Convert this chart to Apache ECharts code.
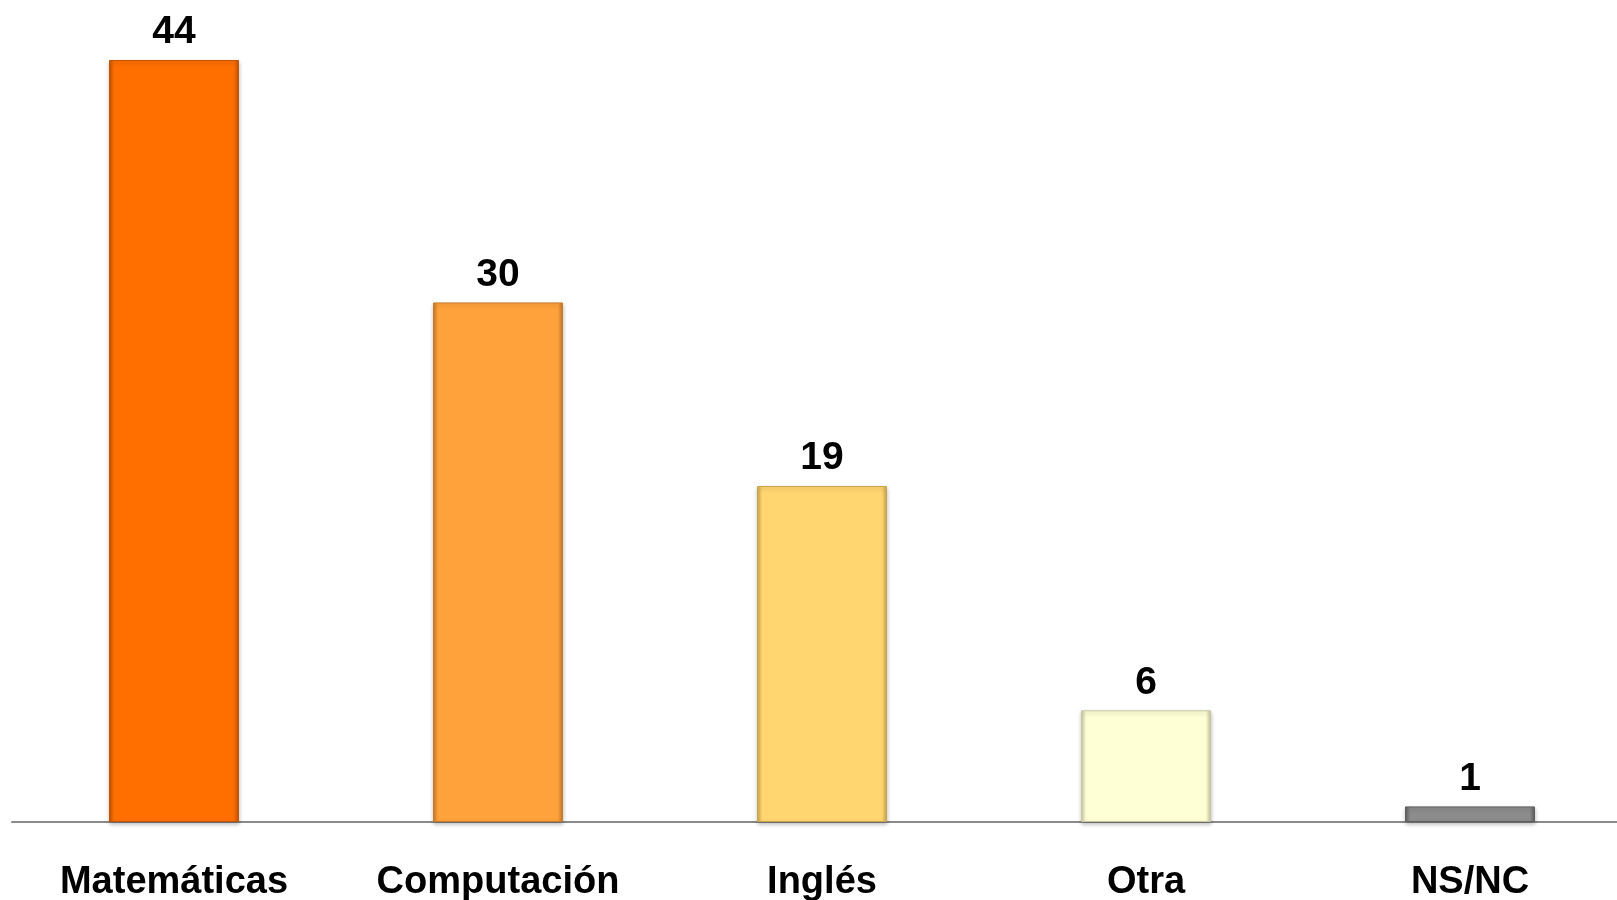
<!DOCTYPE html>
<html lang="es">
<head>
    <meta charset="UTF-8">
    <title>Materias</title>
    <script src="https://cdn.jsdelivr.net/npm/echarts@6/dist/echarts.min.js"></script>
</head>
<body style="margin:0;background:#fff;">
<div id="main" style="width:1617px;height:900px;"></div>
<script type="text/javascript">
    // datos (porcentajes; la etiqueta muestra el valor redondeado)
    var categories = ['Matemáticas', 'Computación', 'Inglés', 'Otra', 'NS/NC'];
    var values = [44, 30, 19.4, 6.45, 0.9];

    // colores de cada barra (base, borde)
    var barColors = ['#FF6F00', '#FFA23C', '#FFD670', '#FFFFD6', '#8C8C8C'];
    var edgeColors = ['#C25400', '#C77A2A', '#C9A64E', '#C8C6A0', '#5E5E5E'];

    function bevel(c, e) {
        return new echarts.graphic.LinearGradient(0, 0, 1, 0, [
            {offset: 0, color: e},
            {offset: 0.04, color: c},
            {offset: 0.96, color: c},
            {offset: 1, color: e}
        ]);
    }

    var myChart = echarts.init(document.getElementById('main'));

    myChart.setOption({
        animation: false,
        grid: {
            left: 12, top: 60, right: -15, bottom: 78,
            containLabel: false,
            outerBoundsMode: 'none'
        },
        xAxis: {
            type: 'category',
            data: categories,
            axisLine: {lineStyle: {color: '#8a8a8a', width: 2}},
            axisTick: {show: false},
            axisLabel: {
                margin: 42,
                fontFamily: 'Liberation Sans, Arial',
                fontWeight: 'bold',
                fontSize: 38,
                color: '#000'
            }
        },
        yAxis: {
            type: 'value',
            min: 0,
            max: 44,
            show: false,
            splitLine: {show: false}
        },
        series: [{
            type: 'bar',
            barWidth: 130,
            data: values.map(function (v, i) {
                return {
                    value: v,
                    itemStyle: {
                        color: bevel(barColors[i], edgeColors[i]),
                        borderColor: edgeColors[i],
                        borderWidth: 1,
                        shadowColor: 'rgba(0,0,0,0.25)',
                        shadowBlur: 4,
                        shadowOffsetY: 2
                    }
                };
            }),
            label: {
                show: true,
                position: 'top',
                distance: 8,
                formatter: function (p) { return Math.round(p.value); },
                fontFamily: 'Liberation Sans, Arial',
                fontWeight: 'bold',
                fontSize: 39,
                color: '#000'
            }
        }]
    });
</script>
</body>
</html>
